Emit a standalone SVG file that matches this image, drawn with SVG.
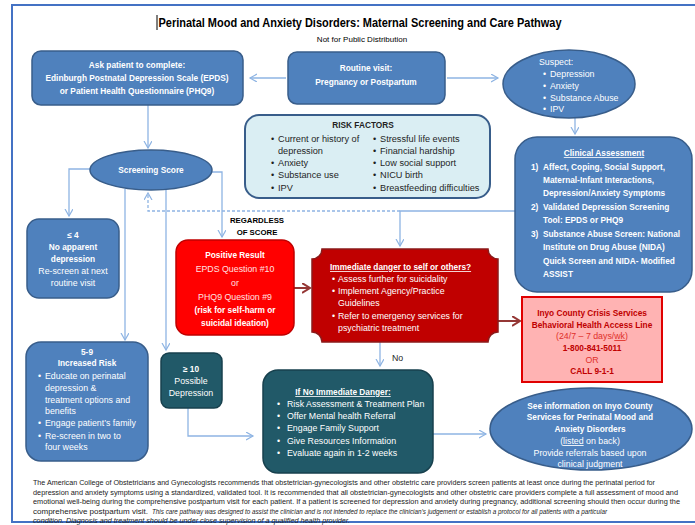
<svg xmlns="http://www.w3.org/2000/svg" width="695" height="525" viewBox="0 0 695 525">
<style>
.t{font-family:"Liberation Sans",Arial,sans-serif;font-size:8.8px;fill:#fff}
.b{font-weight:bold;font-size:8.3px}
.rk{font-size:9.2px}
.c{text-anchor:middle}
.u{text-decoration:underline}
.dkt{fill:#1f1f1f}
.bx{fill:#4F81BD;stroke:#385D8A;stroke-width:1.5}
.dk{fill:#215968;stroke:#17404D;stroke-width:1.5}
.con{fill:none;stroke:#8EB4E3;stroke-width:1.3}
.dash{stroke-dasharray:3 2}
.red{fill:none;stroke:#953735;stroke-width:2}
.ft{font-family:"Liberation Sans",Arial,sans-serif;font-size:6.6px;fill:#222}
.cr{fill:#C00000}
.cr2{fill:#E0302A}
</style>
<defs>
<marker id="ah" markerUnits="userSpaceOnUse" markerWidth="10" markerHeight="10" refX="7" refY="4" orient="auto"><path d="M0,0 L7,4 L0,8" fill="none" stroke="#8EB4E3" stroke-width="1.2"/></marker>
<marker id="ahr" markerUnits="userSpaceOnUse" markerWidth="12" markerHeight="12" refX="8" refY="5" orient="auto"><path d="M0,0 L8,5 L0,10" fill="none" stroke="#953735" stroke-width="2"/></marker>
</defs>
<rect width="695" height="525" fill="#fff"/>
<g id="frame" fill="none" stroke="#4472C4" stroke-width="2">
<path d="M695,5 H12 V522 H695"/>
</g>
<g id="title">
<line x1="157" y1="15" x2="157" y2="30" stroke="#000" stroke-width="1"/>
<text x="360" y="27" class="t b c dkt" style="font-size:12px;fill:#000" textLength="403" lengthAdjust="spacingAndGlyphs">Perinatal Mood and Anxiety Disorders: Maternal Screening and Care Pathway</text>
<text x="362" y="42" class="t c" style="fill:#000;font-size:8px">Not for Public Distribution</text>
</g>
<g id="connectors">
<path class="con" d="M286,78 H250" marker-end="url(#ah)"/>
<path class="con" d="M447,78 H498" marker-end="url(#ah)"/>
<path class="con" d="M148,105 V148" marker-end="url(#ah)"/>
<path class="con" d="M91,169 H69 V216" marker-end="url(#ah)"/>
<path class="con" d="M125,189 V340" marker-end="url(#ah)"/>
<path class="con" d="M166,189 V350" marker-end="url(#ah)"/>
<path class="con" d="M212,172 H222 V237" marker-end="url(#ah)"/>
<path class="con" d="M575,118 V134" marker-end="url(#ah)"/>
<path class="con" d="M515,211 H400 V246" marker-end="url(#ah)"/>
<path class="con dash" d="M400,211 H148 V193" marker-end="url(#ah)"/>
<path class="red" d="M294,288 H310" marker-end="url(#ahr)"/>
<path class="red" d="M498,321 H520" marker-end="url(#ahr)"/>
<path class="con" d="M380,342 V366" marker-end="url(#ah)"/>
<path class="con" d="M188,408 V436 H253" marker-end="url(#ah)"/>
<path class="con" d="M433,434 H486" marker-end="url(#ah)"/>
<text x="392" y="361" class="t dkt">No</text>
<text x="257" y="223" class="t b c" style="fill:#000;font-size:7.8px">REGARDLESS</text>
<text x="257" y="235" class="t b c" style="fill:#000;font-size:7.8px">OF SCORE</text>
</g>
<g id="ask">
<rect class="bx" x="32" y="51" width="211" height="54" rx="9"/>
<text class="t b c" x="137" y="68">Ask patient to complete:</text>
<text class="t b c" x="137" y="81">Edinburgh Postnatal Depression Scale (EPDS)</text>
<text class="t b c" x="137" y="94">or Patient Health Questionnaire (PHQ9)</text>
</g>
<g id="routine">
<rect class="bx" x="288" y="52" width="157" height="52" rx="9"/>
<text class="t b c" x="366" y="71">Routine visit:</text>
<text class="t b c" x="366" y="85">Pregnancy or Postpartum</text>
</g>
<g id="suspect">
<ellipse class="bx" cx="569" cy="84" rx="66" ry="34"/>
<text class="t" x="539" y="65">Suspect:</text>
<text class="t" x="543" y="77">•</text><text class="t" x="550" y="77">Depression</text>
<text class="t" x="543" y="89">•</text><text class="t" x="550" y="89">Anxiety</text>
<text class="t" x="543" y="101">•</text><text class="t" x="550" y="101">Substance Abuse</text>
<text class="t" x="543" y="112">•</text><text class="t" x="550" y="112">IPV</text>
</g>
<g id="risk">
<rect x="245" y="115" width="245" height="83" rx="14" fill="#DAEEF3" stroke="#385D8A" stroke-width="2"/>
<text class="t b c dkt" x="363" y="128">RISK FACTORS</text>
<text class="t rk dkt" x="271" y="142">•</text><text class="t rk dkt" x="278" y="142">Current or history of</text>
<text class="t rk dkt" x="278" y="154">depression</text>
<text class="t rk dkt" x="271" y="166">•</text><text class="t rk dkt" x="278" y="166">Anxiety</text>
<text class="t rk dkt" x="271" y="178">•</text><text class="t rk dkt" x="278" y="178">Substance use</text>
<text class="t rk dkt" x="271" y="191">•</text><text class="t rk dkt" x="278" y="191">IPV</text>
<text class="t rk dkt" x="373" y="142">•</text><text class="t rk dkt" x="380" y="142">Stressful life events</text>
<text class="t rk dkt" x="373" y="154">•</text><text class="t rk dkt" x="380" y="154">Financial hardship</text>
<text class="t rk dkt" x="373" y="166">•</text><text class="t rk dkt" x="380" y="166">Low social support</text>
<text class="t rk dkt" x="373" y="178">•</text><text class="t rk dkt" x="380" y="178">NICU birth</text>
<text class="t rk dkt" x="373" y="191">•</text><text class="t rk dkt" x="380" y="191">Breastfeeding difficulties</text>
</g>
<g id="screening">
<ellipse class="bx" cx="151" cy="170" rx="61" ry="20"/>
<text class="t b c" x="151" y="173">Screening Score</text>
</g>
<g id="clinical">
<rect class="bx" x="515" y="137" width="177" height="155" rx="22"/>
<text class="t b c u" x="604" y="156">Clinical Assessment</text>
<text class="t b" x="531" y="170">1)</text><text class="t b" x="543" y="170">Affect, Coping, Social Support,</text>
<text class="t b" x="543" y="183">Maternal-Infant Interactions,</text>
<text class="t b" x="543" y="196">Depression/Anxiety Symptoms</text>
<text class="t b" x="531" y="210">2)</text><text class="t b" x="543" y="210">Validated Depression Screening</text>
<text class="t b" x="543" y="223">Tool: EPDS or PHQ9</text>
<text class="t b" x="531" y="237">3)</text><text class="t b" x="543" y="237">Substance Abuse Screen: National</text>
<text class="t b" x="543" y="250">Institute on Drug Abuse (NIDA)</text>
<text class="t b" x="543" y="264">Quick Screen and NIDA- Modified</text>
<text class="t b" x="543" y="277">ASSIST</text>
</g>
<g id="le4">
<rect class="bx" x="27" y="219" width="92" height="79" rx="12"/>
<text class="t b c" x="73" y="238">≤ 4</text>
<text class="t b c" x="73" y="250">No apparent</text>
<text class="t b c" x="73" y="262">depression</text>
<text class="t c" x="73" y="274">Re-screen at next</text>
<text class="t c" x="73" y="286">routine visit</text>
</g>
<g id="positive">
<rect x="176" y="240" width="118" height="95" rx="12" fill="#FF0000" stroke="#C00000" stroke-width="1.5"/>
<text class="t b c" x="235" y="258">Positive Result</text>
<text class="t c" x="235" y="272" style="fill:#FFE0E0">EPDS Question #10</text>
<text class="t c" x="235" y="286" style="fill:#FFE0E0">or</text>
<text class="t c" x="235" y="300" style="fill:#FFE0E0">PHQ9 Question #9</text>
<text class="t b c" x="235" y="313">(risk for self-harm or</text>
<text class="t b c" x="235" y="326">suicidal ideation)</text>
</g>
<g id="danger">
<path d="M322,249 H488 A10,10 0 0 0 498,259 V332 A10,10 0 0 0 488,342 H322 A10,10 0 0 0 312,332 V259 A10,10 0 0 0 322,249 Z" fill="#C00000" stroke="#8B1A1A" stroke-width="1.5"/>
<text class="t b u" x="330" y="270">Immediate danger to self or others?</text>
<text class="t" x="332" y="282">•</text><text class="t" x="338" y="282">Assess further for suicidality</text>
<text class="t" x="332" y="294">•</text><text class="t" x="338" y="294">Implement Agency/Practice</text>
<text class="t" x="338" y="306">Guidelines</text>
<text class="t" x="332" y="319">•</text><text class="t" x="338" y="319">Refer to emergency services for</text>
<text class="t" x="338" y="331">psychiatric treatment</text>
</g>
<g id="crisis">
<rect x="522" y="297" width="140" height="85" fill="#FFB3B3" stroke="#E00000" stroke-width="2"/>
<text class="t b c cr" x="592" y="316">Inyo County Crisis Services</text>
<text class="t b c cr" x="592" y="328">Behavioral Health Access Line</text>
<text class="t c cr2" x="592" y="339">(24/7 – 7 days/<tspan class="u">wk</tspan>)</text>
<text class="t b c cr" x="592" y="351">1-800-841-5011</text>
<text class="t c cr2" x="592" y="363">OR</text>
<text class="t b c cr" x="592" y="374">CALL 9-1-1</text>
</g>
<g id="increased">
<rect class="bx" x="26" y="342" width="122" height="119" rx="15"/>
<text class="t b c" x="87" y="355">5-9</text>
<text class="t b c" x="87" y="366">Increased Risk</text>
<text class="t" x="38" y="379">•</text><text class="t" x="45" y="379">Educate on perinatal</text>
<text class="t" x="45" y="391">depression &amp;</text>
<text class="t" x="45" y="403">treatment options and</text>
<text class="t" x="45" y="414">benefits</text>
<text class="t" x="38" y="426">•</text><text class="t" x="45" y="426">Engage patient’s family</text>
<text class="t" x="38" y="439">•</text><text class="t" x="45" y="439">Re-screen in two to</text>
<text class="t" x="45" y="450">four weeks</text>
</g>
<g id="ge10">
<rect class="dk" x="161" y="353" width="61" height="55" rx="8"/>
<text class="t b c" x="191" y="372">≥ 10</text>
<text class="t c" x="191" y="384">Possible</text>
<text class="t c" x="191" y="396">Depression</text>
</g>
<g id="nodanger">
<rect class="dk" x="263" y="370" width="170" height="103" rx="15"/>
<text class="t b c u" x="343" y="395">If No Immediate Danger:</text>
<text class="t" x="277" y="407">•</text><text class="t" x="287" y="407">Risk Assessment &amp; Treatment Plan</text>
<text class="t" x="277" y="419">•</text><text class="t" x="287" y="419">Offer Mental health Referral</text>
<text class="t" x="277" y="431">•</text><text class="t" x="287" y="431">Engage Family Support</text>
<text class="t" x="277" y="444">•</text><text class="t" x="287" y="444">Give Resources Information</text>
<text class="t" x="277" y="456">•</text><text class="t" x="287" y="456">Evaluate again in 1-2 weeks</text>
</g>
<g id="seeinfo">
<ellipse class="bx" cx="591" cy="429" rx="101" ry="41"/>
<text class="t b c" x="590" y="409">See information on Inyo County</text>
<text class="t b c" x="590" y="420">Services for Perinatal Mood and</text>
<text class="t b c" x="590" y="432">Anxiety Disorders</text>
<text class="t c" x="590" y="444">(<tspan class="u">listed</tspan> on back)</text>
<text class="t c" x="590" y="456">Provide referrals based upon</text>
<text class="t c" x="590" y="467">clinical judgment</text>
</g>
<g id="footer">
<text class="ft" x="33" y="485" textLength="622" lengthAdjust="spacingAndGlyphs">The American College of Obstetricians and Gynecologists recommends that obstetrician-gynecologists and other obstetric care providers screen patients at least once during the perinatal period for</text>
<text class="ft" x="33" y="495" textLength="645" lengthAdjust="spacingAndGlyphs">depression and anxiety symptoms using a standardized, validated tool.  It is recommended that all obstetrician-gynecologists and other obstetric care providers complete a full assessment of mood and</text>
<text class="ft" x="33" y="504" textLength="647" lengthAdjust="spacingAndGlyphs">emotional well-being during the comprehensive postpartum visit for each patient.  If a patient is screened for depression and anxiety during pregnancy, additional screening should then occur during the</text>
<text class="ft" x="33" y="514" textLength="115" lengthAdjust="spacingAndGlyphs">comprehensive postpartum visit.</text>
<text class="ft" x="152" y="514" style="font-style:italic" textLength="455" lengthAdjust="spacingAndGlyphs">This care pathway was designed to assist the clinician and  is not intended to replace the clinician’s judgement or establish a protocol for all patients with a particular</text>
<text class="ft" x="33" y="523" style="font-style:italic" textLength="317" lengthAdjust="spacingAndGlyphs">condition. Diagnosis and treatment should be under close supervision of a qualified health provider.</text>
</g>
</svg>
